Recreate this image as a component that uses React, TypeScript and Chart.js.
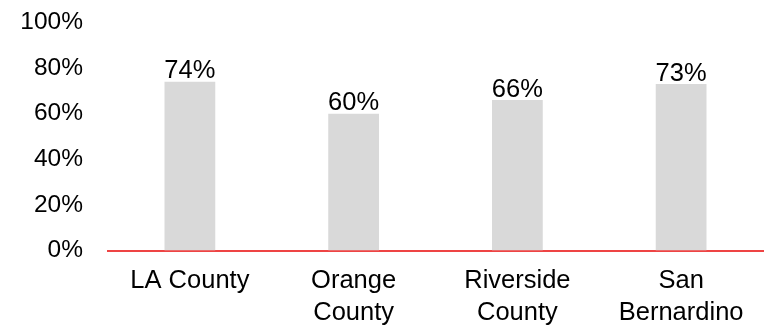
import React, { useEffect, useRef } from "react";
import { Chart, registerables } from "chart.js";

Chart.register(...registerables);

const categories: string[][] = [["LA County"], ["Orange", "County"], ["Riverside", "County"], ["San", "Bernardino"]];
const values: number[] = [74, 60, 66, 73];
const yTicks: number[] = [0, 20, 40, 60, 80, 100];

const FONT = "'Liberation Sans', Arial, sans-serif";

const dataLabels = {
  id: "dataLabels",
  afterDatasetsDraw(chart: any) {
    const ctx = chart.ctx;
    const meta = chart.getDatasetMeta(0);
    ctx.save();
    ctx.font = `25.5px ${FONT}`;
    ctx.fillStyle = "#000";
    ctx.textAlign = "center";
    ctx.textBaseline = "alphabetic";
    meta.data.forEach((bar: any, i: number) => {
      ctx.fillText(`${values[i]}%`, bar.x, bar.y - 3.5);
    });
    ctx.restore();
  },
};

export default function App() {
  const ref = useRef<HTMLCanvasElement>(null);
  useEffect(() => {
    if (!ref.current) return;
    const chart = new Chart(ref.current, {
      type: "bar",
      data: {
        labels: categories,
        datasets: [
          {
            data: values,
            backgroundColor: "#D9D9D9",
            borderWidth: 0,
            barPercentage: 0.62,
            categoryPercentage: 0.5,
          },
        ],
      },
      options: {
        animation: false,
        responsive: false,
        maintainAspectRatio: false,
        layout: { padding: { top: 22.5, right: 2, left: 0, bottom: 0 } },
        plugins: { legend: { display: false }, tooltip: { enabled: false } },
        scales: {
          x: {
            grid: { display: false, drawTicks: false },
            border: { display: true, color: "rgb(238,68,68)", width: 2 },
            ticks: {
              color: "#000",
              font: { family: FONT, size: 25.5, lineHeight: 1.25 },
              padding: 15,
              maxRotation: 0,
              autoSkip: false,
            },
            afterFit: (s: any) => {
              s.height = 75.5;
              s.paddingLeft = 0;
              s.paddingRight = 0;
            },
          },
          y: {
            min: 0,
            max: 100,
            afterBuildTicks: (s: any) => {
              s.ticks = yTicks.map((v) => ({ value: v }));
            },
            grid: { display: false, drawTicks: false },
            border: { display: false },
            ticks: {
              color: "#000",
              font: { family: FONT, size: 24.5 },
              padding: 25,
              callback: (v: any) => `${v}%`,
            },
            afterFit: (s: any) => {
              s.width = 108;
              s.paddingTop = 0;
              s.paddingBottom = 0;
            },
          },
        },
      },
      plugins: [dataLabels],
    });
    return () => chart.destroy();
  }, []);
  return (
    <div style={{ position: "absolute", left: 0, top: 0, width: 765, height: 326, background: "#fff" }}>
      <canvas ref={ref} width={765} height={326} style={{ display: "block" }} />
    </div>
  );
}
